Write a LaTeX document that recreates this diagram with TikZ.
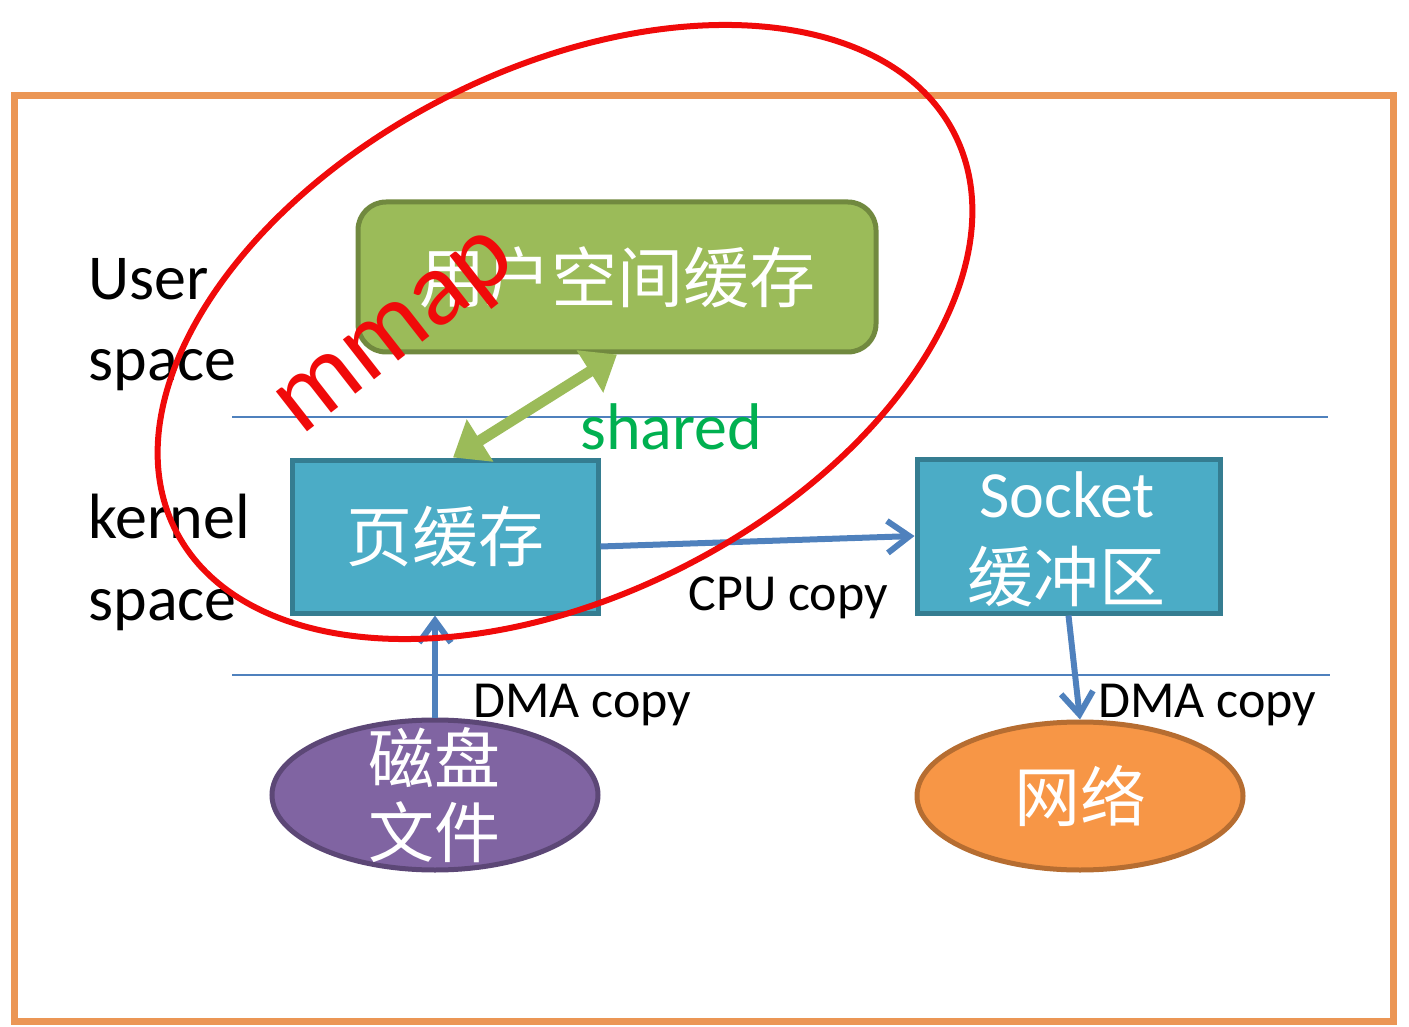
\documentclass[tikz,border=0pt]{standalone}
\usepackage{fontspec}
\setmainfont{Carlito}
\newfontfamily\cjk{Noto Sans CJK SC}
\usetikzlibrary{arrows.meta,calc,shapes.geometric}

\definecolor{frameorange}{HTML}{EB9655}
\definecolor{sepblue}{HTML}{4F81BD}
\definecolor{arrowblue}{HTML}{4F81BD}
\definecolor{ugreen}{HTML}{9BBB59}
\definecolor{ugreenB}{HTML}{71893F}
\definecolor{kblue}{HTML}{4BACC6}
\definecolor{kblueB}{HTML}{357D91}
\definecolor{dpurple}{HTML}{8064A2}
\definecolor{dpurpleB}{HTML}{5C4776}
\definecolor{norange}{HTML}{F79646}
\definecolor{norangeB}{HTML}{B66D31}
\definecolor{sharedgreen}{HTML}{00B050}
\definecolor{mmapred}{HTML}{F00A0A}

\tikzset{
  boxtext/.style={text=white, font=\cjk\fontsize{33}{40}\selectfont, align=center},
  kbox/.style={boxtext, draw=kblueB, fill=kblue, line width=2.5pt,
    minimum width=153pt, minimum height=76.5pt, inner sep=0pt},
  ellbox/.style={boxtext, ellipse, line width=2.5pt, inner sep=0pt},
  flow/.style={draw=arrowblue, line width=3pt,
    -{Straight Barb[length=11pt,width=16pt,line width=3pt]}},
  sepline/.style={draw=sepblue, line width=0.8pt},
  sidelabel/.style={anchor=base west, font=\fontsize{32}{38}\selectfont, inner sep=0pt},
  copylabel/.style={anchor=base west, font=\fontsize{26}{31}\selectfont, inner sep=0pt},
}

\begin{document}
\begin{tikzpicture}[x=0.5pt,y=-0.5pt]
\useasboundingbox (0,0) rectangle (1409,1027);

% outer frame
\draw[frameorange, line width=3.5pt] (14,96) rectangle (1393,1021);

% user / kernel / hardware separators
\draw[sepline] (232,417) -- (1328,417);
\draw[sepline] (232,675) -- (1330,675);

% buffers
\node[boxtext, draw=ugreenB, fill=ugreen, line width=2.5pt, rounded corners=14pt,
  minimum width=259pt, minimum height=75pt, inner sep=0pt] (ubuf) at (617,277) {用户空间缓存};
\node[kbox] (page) at (445,536.5) {页缓存};
\node[kbox, minimum width=151.5pt, minimum height=77pt] (sock) at (1068.5,536) {};
\node[anchor=base, text=white, font=\fontsize{33}{40}\selectfont, inner sep=0pt] (socktxt) at (1067,517) {Socket};
\node[boxtext, inner sep=0pt] (bufname) at (1066,577) {缓冲区};

% devices
\node[ellbox, draw=dpurpleB, fill=dpurple, minimum width=163pt, minimum height=75pt] (disk) at (435,795) {};
\node[boxtext, inner sep=0pt] (disktxt1) at (434,758) {磁盘};
\node[boxtext, inner sep=0pt] (disktxt2) at (434,832) {文件};
\node[ellbox, draw=norangeB, fill=norange, minimum width=163pt, minimum height=74pt] (net) at (1080,796) {网络};

% data movement
\draw[draw=ugreen, line width=5.5pt,
  {Triangle[length=16pt,width=24pt]}-{Triangle[length=16pt,width=24pt]}]
  ($(page.north)+(8,0)$) -- (ubuf.south);
\draw[flow] ($(page.east)+(0,10)$) -- (sock.west);
\draw[flow] (disk.north) -- (disk.north |- page.south);
\draw[flow] (sock.south) -- (net.north);

% labels
\node[sidelabel] (lu1) at (88,300) {User};
\node[sidelabel] (lu2) at (88,380) {space};
\node[sidelabel] (lk1) at (88,538) {kernel};
\node[sidelabel] (lk2) at (88,620) {space};
\node[anchor=base west, text=sharedgreen, font=\fontsize{33}{40}\selectfont, inner sep=0pt] (shared) at (580,450) {shared};
\node[copylabel] (cpu) at (688,610) {CPU copy};
\node[copylabel] (dma1) at (473,717) {DMA copy};
\node[copylabel] (dma2) at (1098,717) {DMA copy};

% mmap region
\draw[mmapred, line width=3pt, rotate around={27:(565,332)}]
  (565,332) ellipse [x radius=437, y radius=263];
\node[text=mmapred, rotate=38, font=\fontsize{53}{63}\selectfont, inner sep=0pt] (mmap) at (400,338) {mmap};
\end{tikzpicture}
\end{document}
